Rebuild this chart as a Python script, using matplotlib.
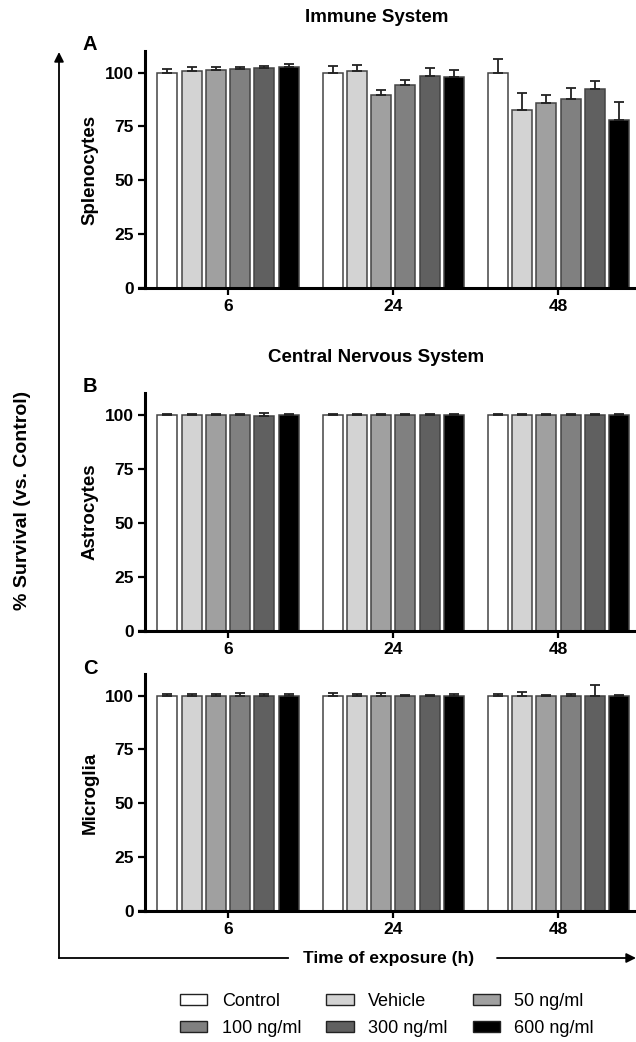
import matplotlib
matplotlib.use('Agg')
import matplotlib.pyplot as plt
from matplotlib.patches import Patch
import numpy as np

plt.rcParams['font.family'] = ['Liberation Sans', 'DejaVu Sans']

# --- data ---
times = ['6', '24', '48']
treatments = ['Control', 'Vehicle', '50 ng/ml', '100 ng/ml', '300 ng/ml', '600 ng/ml']
colors = ['#ffffff', '#d3d3d3', '#a0a0a0', '#808080', '#606060', '#000000']

# rows = treatment, cols = time (6, 24, 48 h)
spleno_mean = [[100.0, 100.0, 100.0],
               [100.6, 100.6, 82.4],
               [101.2, 89.4, 85.7],
               [101.8, 94.2, 87.5],
               [102.1, 98.3, 92.2],
               [102.8, 97.8, 78.0]]
spleno_err = [[1.5, 3.0, 6.5],
              [2.1, 2.8, 8.1],
              [1.4, 2.6, 4.0],
              [0.7, 2.5, 5.3],
              [0.9, 3.9, 4.1],
              [1.2, 3.3, 8.1]]

astro_mean = [[100.0, 100.0, 100.0],
              [100.0, 100.0, 100.0],
              [100.0, 100.0, 100.0],
              [100.0, 100.0, 100.0],
              [99.6, 100.0, 100.0],
              [100.0, 100.0, 100.0]]
astro_err = [[0.2, 0.2, 0.2],
             [0.3, 0.4, 0.2],
             [0.2, 0.3, 0.2],
             [0.3, 0.2, 0.2],
             [1.0, 0.2, 0.2],
             [0.4, 0.2, 0.2]]

micro_mean = [[100.0, 100.0, 100.0],
              [100.0, 100.0, 100.0],
              [100.0, 100.0, 100.0],
              [100.0, 100.0, 100.0],
              [100.0, 100.0, 100.0],
              [100.0, 100.0, 100.0]]
micro_err = [[0.8, 1.1, 0.6],
             [0.8, 0.8, 1.7],
             [0.8, 1.1, 0.3],
             [1.2, 0.4, 0.7],
             [0.8, 0.3, 4.8],
             [0.7, 0.8, 0.3]]

W, H = 636, 1042
fig = plt.figure(figsize=(W / 100, H / 100), dpi=100)


def fx(px):
    return px / W


def fy(py):
    return 1 - py / H


def panel(top, bottom, means, errs, letter, ylab):
    ax = fig.add_axes([fx(145), fy(bottom), 1 - fx(145), (bottom - top) / H])
    x = np.arange(len(times))
    pitch, width = 0.147, 0.121
    for i, (m, e, c) in enumerate(zip(means, errs, colors)):
        pos = x + (i - 2.5) * pitch
        ax.bar(pos, m, width=width, color=c, edgecolor='#444444', linewidth=1.1, zorder=2)
        ax.errorbar(pos, m, yerr=[np.zeros(len(e)), e], fmt='none', ecolor='#222222',
                    elinewidth=1.3, capsize=3.5, capthick=1.3, zorder=3)
    ax.set_xlim(-0.503, 2.47)
    ax.set_ylim(0, 110)
    ax.set_yticks([0, 25, 50, 75, 100])
    ax.set_xticks(x)
    ax.set_xticklabels(times)
    for s in ['top', 'right']:
        ax.spines[s].set_visible(False)
    ax.spines['left'].set_linewidth(2.2)
    ax.spines['bottom'].set_linewidth(2.2)
    ax.plot([-0.013, 0], [0, 0], transform=ax.transAxes, color='black', lw=2.2, clip_on=False)
    ax.tick_params(axis='both', length=5, width=1.6, labelsize=12.5, pad=3)
    for t in ax.get_xticklabels() + ax.get_yticklabels():
        t.set_fontweight('bold')
    fig.text(fx(90), fy((top + bottom) / 2), ylab, rotation=90, ha='center', va='center',
             fontsize=13.5, fontweight='bold')
    fig.text(fx(90), fy(top - 6), letter, ha='center', va='center', fontsize=14.5, fontweight='bold')
    return ax


panel(51, 288, spleno_mean, spleno_err, 'A', 'Splenocytes')
panel(393, 631, astro_mean, astro_err, 'B', 'Astrocytes')
panel(674, 911, micro_mean, micro_err, 'C', 'Microglia')

fig.text(fx(377), fy(18), 'Immune System', ha='center', va='center', fontsize=13.5, fontweight='bold')
fig.text(fx(376), fy(357), 'Central Nervous System', ha='center', va='center',
         fontsize=13.5, fontweight='bold')
fig.text(fx(23), fy(500), '% Survival (vs. Control)', rotation=90, ha='center', va='center',
         fontsize=14, fontweight='bold')
fig.text(fx(389), fy(958), 'Time of exposure (h)', ha='center', va='center',
         fontsize=12.5, fontweight='bold')

# L-shaped axis arrows
arrow_kw = dict(arrowstyle='-|>', color='black', lw=1.3, mutation_scale=14,
                shrinkA=0, shrinkB=0)
fig.add_artist(matplotlib.patches.FancyArrowPatch((fx(59), fy(958)), (fx(59), fy(52)),
                                                  transform=fig.transFigure, **arrow_kw))
fig.add_artist(matplotlib.lines.Line2D([fx(59), fx(288)], [fy(958), fy(958)],
                                       transform=fig.transFigure, color='black', lw=1.3))
fig.add_artist(matplotlib.patches.FancyArrowPatch((fx(497), fy(958)), (fx(636), fy(958)),
                                                  transform=fig.transFigure, **arrow_kw))

# legend laid out row by row
handles = [Patch(facecolor=c, edgecolor='#222222', linewidth=1.0) for c in colors]
order = [0, 3, 1, 4, 2, 5]
fig.legend([handles[i] for i in order], [treatments[i] for i in order], ncol=3,
           loc='center', bbox_to_anchor=(fx(387), fy(1015)), frameon=False,
           fontsize=13, handlelength=1.5, handleheight=0.55, handletextpad=0.8,
           columnspacing=1.4, labelspacing=0.55, borderpad=0)

fig.savefig('out.png', dpi=100)
